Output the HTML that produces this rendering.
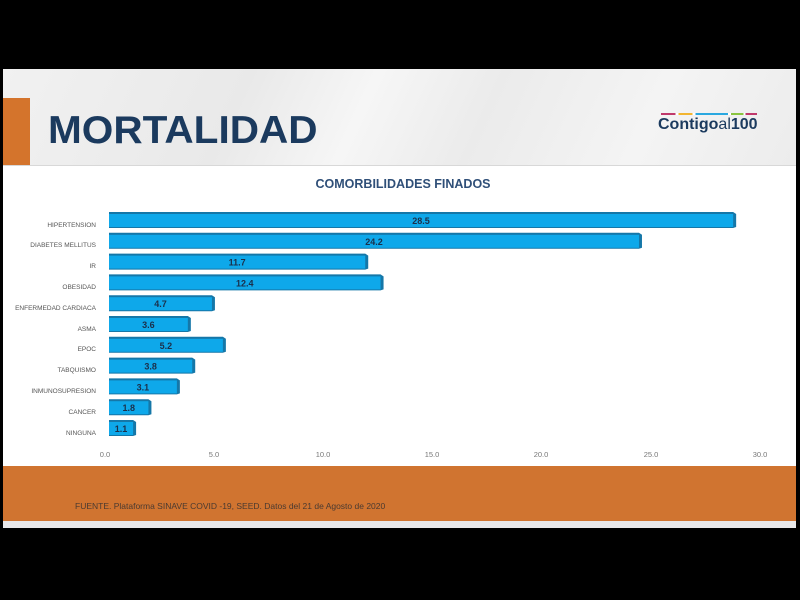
<!DOCTYPE html>
<html><head><meta charset="utf-8"><style>
body{margin:0;width:800px;height:600px;background:#000;position:relative;overflow:hidden;font-family:"Liberation Sans",sans-serif}
.slide{position:absolute;left:3px;top:69px;width:793px;height:459px;background:#fff}
.hdr{position:absolute;left:0;top:0;width:793px;height:96px;background:linear-gradient(115deg,#f1f1f1 0%,#e9e9e9 30%,#f6f6f6 45%,#ebebeb 60%,#f4f4f4 80%,#ececec 100%);border-bottom:1px solid #d8d8d8}
.ob{position:absolute;left:0;top:29px;width:27px;height:67px;background:#d4742c}
.title{position:absolute;left:45px;top:40px;font-size:39px;font-weight:bold;color:#1b3a5e;transform:scaleX(1.04);transform-origin:left}
.logo{position:absolute;left:655px;top:47px;font-size:16px;font-weight:bold;color:#1b3a5e}
.foot{position:absolute;left:0;top:397px;width:793px;height:55px;background:#d07430}
.footbar{position:absolute;left:0;top:452px;width:793px;height:7px;background:#e8e8ea}
.ft{position:absolute;left:72px;top:432px;font-size:8.5px;color:#4a3a30}
</style></head><body>
<div class="slide">
<div class="hdr"><div class="ob"></div><div class="title">MORTALIDAD</div>
<div class="logo">Contigo<span style="font-weight:normal">al</span>100</div>
<div style="position:absolute;left:658px;top:44px;width:96px;height:2px;background:linear-gradient(90deg,#c0396b 0 15%,#fff 15% 18%,#f2b530 18% 33%,#fff 33% 36%,#2aa8e0 36% 70%,#fff 70% 73%,#8ac43f 73% 86%,#fff 86% 88%,#c0396b 88%)"></div>
</div>
<div class="foot"></div><div class="footbar"></div>
<div class="ft">FUENTE. Plataforma SINAVE COVID -19, SEED. Datos del 21 de Agosto de 2020</div>
</div>
<svg width="800" height="600" style="position:absolute;left:0;top:0">
<text x="403" y="188" text-anchor="middle" font-family="Liberation Sans" font-size="12.5" font-weight="bold" fill="#2f4f78">COMORBILIDADES FINADOS</text>
<g font-family="Liberation Sans" font-size="6.5" fill="#555" text-anchor="end">
<text x="96" y="227">HIPERTENSION</text>
<text x="96" y="247">DIABETES MELLITUS</text>
<text x="96" y="268">IR</text>
<text x="96" y="289">OBESIDAD</text>
<text x="96" y="310">ENFERMEDAD CARDIACA</text>
<text x="96" y="331">ASMA</text>
<text x="96" y="351">EPOC</text>
<text x="96" y="372">TABQUISMO</text>
<text x="96" y="393">INMUNOSUPRESION</text>
<text x="96" y="414">CANCER</text>
<text x="96" y="435">NINGUNA</text>
</g>
<g id="bars"></g>
<g font-family="Liberation Sans" font-size="7.5" fill="#777" text-anchor="middle">
<text x="105" y="457">0.0</text><text x="214" y="457">5.0</text><text x="323" y="457">10.0</text><text x="432" y="457">15.0</text><text x="541" y="457">20.0</text><text x="651" y="457">25.0</text><text x="760" y="457">30.0</text>
</g>
</svg>
<script>
var v=[28.5,24.2,11.7,12.4,4.7,3.6,5.2,3.8,3.1,1.8,1.1],g=document.getElementById('bars'),s='';
v.forEach(function(d,i){var y=212+i*20.8,w=d*21.9,x=109;
s+='<polygon points="'+x+','+y+' '+(x+w)+','+y+' '+(x+w+3)+','+(y+2)+' '+(x+w+3)+','+(y+15)+' '+(x+w)+','+(y+16)+' '+x+','+(y+16)+'" fill="#1577a8"/>';
s+='<rect x="'+x+'" y="'+(y+2)+'" width="'+w+'" height="13" fill="#0ea8ea"/>';
s+='<text x="'+(x+w/2)+'" y="'+(y+12)+'" text-anchor="middle" font-family="Liberation Sans" font-size="9" font-weight="bold" fill="#1b2f4a">'+d.toFixed(1)+'</text>';});
g.innerHTML=s;
</script>
</body></html>
